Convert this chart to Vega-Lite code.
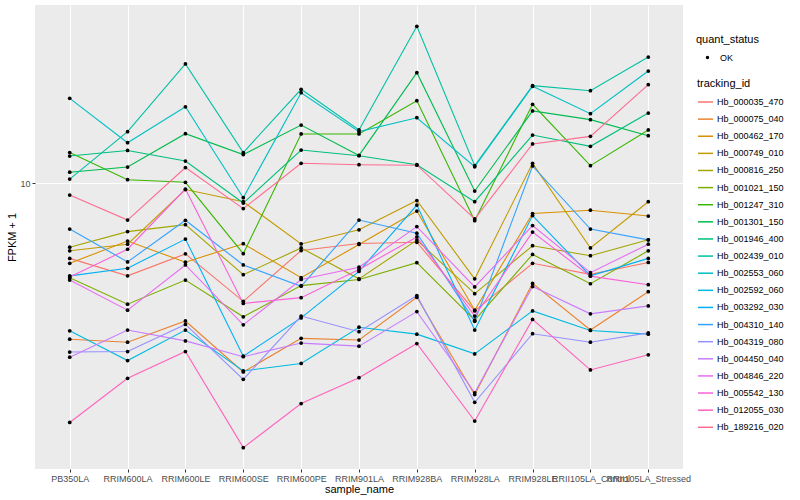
{
"$schema":"https://vega.github.io/schema/vega-lite/v6.json",
"width":648,"height":464,
"autosize":"none",
"padding":{"left":35,"top":5,"right":117,"bottom":31},
"background":"white",
"config":{
"view":{"fill":"#EBEBEB","stroke":null},
"font":"Liberation Sans",
"axis":{"domain":false,"gridColor":"white","gridWidth":1.1,"tickColor":"#333333","tickSize":3,"labelColor":"#4D4D4D","labelFontSize":9,"titleFontSize":11,"titleFontWeight":"normal","titleColor":"black","labelPadding":2},
"legend":{"titleFontSize":11,"titleFontWeight":"normal","titleColor":"black","labelFontSize":9,"labelColor":"black","padding":0}
},
"data":{"values":[
{"gene":"Hb_000035_470","sample":"PB350LA","fpkm":6.48,"status":"OK"},{"gene":"Hb_000035_470","sample":"RRIM600LA","fpkm":5.86,"status":"OK"},{"gene":"Hb_000035_470","sample":"RRIM600LE","fpkm":6.65,"status":"OK"},{"gene":"Hb_000035_470","sample":"RRIM600SE","fpkm":5.06,"status":"OK"},{"gene":"Hb_000035_470","sample":"RRIM600PE","fpkm":6.78,"status":"OK"},{"gene":"Hb_000035_470","sample":"RRIM901LA","fpkm":7.06,"status":"OK"},{"gene":"Hb_000035_470","sample":"RRIM928BA","fpkm":7.11,"status":"OK"},{"gene":"Hb_000035_470","sample":"RRIM928LA","fpkm":4.79,"status":"OK"},{"gene":"Hb_000035_470","sample":"RRIM928LE","fpkm":6.30,"status":"OK"},{"gene":"Hb_000035_470","sample":"RRII105LA_Control","fpkm":5.91,"status":"OK"},{"gene":"Hb_000035_470","sample":"RRII105LA_Stressed","fpkm":6.33,"status":"OK"},
{"gene":"Hb_000075_040","sample":"PB350LA","fpkm":4.07,"status":"OK"},{"gene":"Hb_000075_040","sample":"RRIM600LA","fpkm":4.00,"status":"OK"},{"gene":"Hb_000075_040","sample":"RRIM600LE","fpkm":4.52,"status":"OK"},{"gene":"Hb_000075_040","sample":"RRIM600SE","fpkm":3.37,"status":"OK"},{"gene":"Hb_000075_040","sample":"RRIM600PE","fpkm":4.09,"status":"OK"},{"gene":"Hb_000075_040","sample":"RRIM901LA","fpkm":4.05,"status":"OK"},{"gene":"Hb_000075_040","sample":"RRIM928BA","fpkm":5.18,"status":"OK"},{"gene":"Hb_000075_040","sample":"RRIM928LA","fpkm":2.96,"status":"OK"},{"gene":"Hb_000075_040","sample":"RRIM928LE","fpkm":5.61,"status":"OK"},{"gene":"Hb_000075_040","sample":"RRII105LA_Control","fpkm":4.29,"status":"OK"},{"gene":"Hb_000075_040","sample":"RRII105LA_Stressed","fpkm":5.35,"status":"OK"},
{"gene":"Hb_000462_170","sample":"PB350LA","fpkm":6.30,"status":"OK"},{"gene":"Hb_000462_170","sample":"RRIM600LA","fpkm":7.16,"status":"OK"},{"gene":"Hb_000462_170","sample":"RRIM600LE","fpkm":6.34,"status":"OK"},{"gene":"Hb_000462_170","sample":"RRIM600SE","fpkm":7.05,"status":"OK"},{"gene":"Hb_000462_170","sample":"RRIM600PE","fpkm":5.80,"status":"OK"},{"gene":"Hb_000462_170","sample":"RRIM901LA","fpkm":7.02,"status":"OK"},{"gene":"Hb_000462_170","sample":"RRIM928BA","fpkm":8.51,"status":"OK"},{"gene":"Hb_000462_170","sample":"RRIM928LA","fpkm":4.81,"status":"OK"},{"gene":"Hb_000462_170","sample":"RRIM928LE","fpkm":8.39,"status":"OK"},{"gene":"Hb_000462_170","sample":"RRII105LA_Control","fpkm":8.55,"status":"OK"},{"gene":"Hb_000462_170","sample":"RRII105LA_Stressed","fpkm":8.27,"status":"OK"},
{"gene":"Hb_000749_010","sample":"PB350LA","fpkm":6.77,"status":"OK"},{"gene":"Hb_000749_010","sample":"RRIM600LA","fpkm":7.03,"status":"OK"},{"gene":"Hb_000749_010","sample":"RRIM600LE","fpkm":9.63,"status":"OK"},{"gene":"Hb_000749_010","sample":"RRIM600SE","fpkm":8.98,"status":"OK"},{"gene":"Hb_000749_010","sample":"RRIM600PE","fpkm":7.04,"status":"OK"},{"gene":"Hb_000749_010","sample":"RRIM901LA","fpkm":7.64,"status":"OK"},{"gene":"Hb_000749_010","sample":"RRIM928BA","fpkm":9.04,"status":"OK"},{"gene":"Hb_000749_010","sample":"RRIM928LA","fpkm":5.76,"status":"OK"},{"gene":"Hb_000749_010","sample":"RRIM928LE","fpkm":11.20,"status":"OK"},{"gene":"Hb_000749_010","sample":"RRII105LA_Control","fpkm":6.88,"status":"OK"},{"gene":"Hb_000749_010","sample":"RRII105LA_Stressed","fpkm":8.98,"status":"OK"},
{"gene":"Hb_000816_250","sample":"PB350LA","fpkm":6.91,"status":"OK"},{"gene":"Hb_000816_250","sample":"RRIM600LA","fpkm":7.56,"status":"OK"},{"gene":"Hb_000816_250","sample":"RRIM600LE","fpkm":7.87,"status":"OK"},{"gene":"Hb_000816_250","sample":"RRIM600SE","fpkm":5.90,"status":"OK"},{"gene":"Hb_000816_250","sample":"RRIM600PE","fpkm":6.88,"status":"OK"},{"gene":"Hb_000816_250","sample":"RRIM901LA","fpkm":5.76,"status":"OK"},{"gene":"Hb_000816_250","sample":"RRIM928BA","fpkm":7.20,"status":"OK"},{"gene":"Hb_000816_250","sample":"RRIM928LA","fpkm":5.29,"status":"OK"},{"gene":"Hb_000816_250","sample":"RRIM928LE","fpkm":6.97,"status":"OK"},{"gene":"Hb_000816_250","sample":"RRII105LA_Control","fpkm":6.58,"status":"OK"},{"gene":"Hb_000816_250","sample":"RRII105LA_Stressed","fpkm":7.21,"status":"OK"},
{"gene":"Hb_001021_150","sample":"PB350LA","fpkm":5.80,"status":"OK"},{"gene":"Hb_001021_150","sample":"RRIM600LA","fpkm":4.98,"status":"OK"},{"gene":"Hb_001021_150","sample":"RRIM600LE","fpkm":5.72,"status":"OK"},{"gene":"Hb_001021_150","sample":"RRIM600SE","fpkm":4.63,"status":"OK"},{"gene":"Hb_001021_150","sample":"RRIM600PE","fpkm":5.54,"status":"OK"},{"gene":"Hb_001021_150","sample":"RRIM901LA","fpkm":5.74,"status":"OK"},{"gene":"Hb_001021_150","sample":"RRIM928BA","fpkm":6.32,"status":"OK"},{"gene":"Hb_001021_150","sample":"RRIM928LA","fpkm":4.54,"status":"OK"},{"gene":"Hb_001021_150","sample":"RRIM928LE","fpkm":6.63,"status":"OK"},{"gene":"Hb_001021_150","sample":"RRII105LA_Control","fpkm":5.60,"status":"OK"},{"gene":"Hb_001021_150","sample":"RRII105LA_Stressed","fpkm":6.77,"status":"OK"},
{"gene":"Hb_001247_310","sample":"PB350LA","fpkm":11.92,"status":"OK"},{"gene":"Hb_001247_310","sample":"RRIM600LA","fpkm":10.19,"status":"OK"},{"gene":"Hb_001247_310","sample":"RRIM600LE","fpkm":10.04,"status":"OK"},{"gene":"Hb_001247_310","sample":"RRIM600SE","fpkm":6.66,"status":"OK"},{"gene":"Hb_001247_310","sample":"RRIM600PE","fpkm":13.26,"status":"OK"},{"gene":"Hb_001247_310","sample":"RRIM901LA","fpkm":13.26,"status":"OK"},{"gene":"Hb_001247_310","sample":"RRIM928BA","fpkm":16.06,"status":"OK"},{"gene":"Hb_001247_310","sample":"RRIM928LA","fpkm":8.05,"status":"OK"},{"gene":"Hb_001247_310","sample":"RRIM928LE","fpkm":15.73,"status":"OK"},{"gene":"Hb_001247_310","sample":"RRII105LA_Control","fpkm":11.05,"status":"OK"},{"gene":"Hb_001247_310","sample":"RRII105LA_Stressed","fpkm":13.57,"status":"OK"},
{"gene":"Hb_001301_150","sample":"PB350LA","fpkm":10.64,"status":"OK"},{"gene":"Hb_001301_150","sample":"RRIM600LA","fpkm":10.96,"status":"OK"},{"gene":"Hb_001301_150","sample":"RRIM600LE","fpkm":13.28,"status":"OK"},{"gene":"Hb_001301_150","sample":"RRIM600SE","fpkm":11.78,"status":"OK"},{"gene":"Hb_001301_150","sample":"RRIM600PE","fpkm":13.96,"status":"OK"},{"gene":"Hb_001301_150","sample":"RRIM901LA","fpkm":11.72,"status":"OK"},{"gene":"Hb_001301_150","sample":"RRIM928BA","fpkm":18.87,"status":"OK"},{"gene":"Hb_001301_150","sample":"RRIM928LA","fpkm":9.55,"status":"OK"},{"gene":"Hb_001301_150","sample":"RRIM928LE","fpkm":15.14,"status":"OK"},{"gene":"Hb_001301_150","sample":"RRII105LA_Control","fpkm":14.40,"status":"OK"},{"gene":"Hb_001301_150","sample":"RRII105LA_Stressed","fpkm":13.13,"status":"OK"},
{"gene":"Hb_001946_400","sample":"PB350LA","fpkm":11.68,"status":"OK"},{"gene":"Hb_001946_400","sample":"RRIM600LA","fpkm":12.06,"status":"OK"},{"gene":"Hb_001946_400","sample":"RRIM600LE","fpkm":11.35,"status":"OK"},{"gene":"Hb_001946_400","sample":"RRIM600SE","fpkm":8.91,"status":"OK"},{"gene":"Hb_001946_400","sample":"RRIM600PE","fpkm":12.09,"status":"OK"},{"gene":"Hb_001946_400","sample":"RRIM901LA","fpkm":11.70,"status":"OK"},{"gene":"Hb_001946_400","sample":"RRIM928BA","fpkm":11.11,"status":"OK"},{"gene":"Hb_001946_400","sample":"RRIM928LA","fpkm":8.98,"status":"OK"},{"gene":"Hb_001946_400","sample":"RRIM928LE","fpkm":13.18,"status":"OK"},{"gene":"Hb_001946_400","sample":"RRII105LA_Control","fpkm":12.35,"status":"OK"},{"gene":"Hb_001946_400","sample":"RRII105LA_Stressed","fpkm":14.96,"status":"OK"},
{"gene":"Hb_002439_010","sample":"PB350LA","fpkm":10.23,"status":"OK"},{"gene":"Hb_002439_010","sample":"RRIM600LA","fpkm":13.44,"status":"OK"},{"gene":"Hb_002439_010","sample":"RRIM600LE","fpkm":19.84,"status":"OK"},{"gene":"Hb_002439_010","sample":"RRIM600SE","fpkm":11.92,"status":"OK"},{"gene":"Hb_002439_010","sample":"RRIM600PE","fpkm":17.15,"status":"OK"},{"gene":"Hb_002439_010","sample":"RRIM901LA","fpkm":13.57,"status":"OK"},{"gene":"Hb_002439_010","sample":"RRIM928BA","fpkm":24.65,"status":"OK"},{"gene":"Hb_002439_010","sample":"RRIM928LA","fpkm":11.05,"status":"OK"},{"gene":"Hb_002439_010","sample":"RRIM928LE","fpkm":17.51,"status":"OK"},{"gene":"Hb_002439_010","sample":"RRII105LA_Control","fpkm":17.01,"status":"OK"},{"gene":"Hb_002439_010","sample":"RRII105LA_Stressed","fpkm":20.65,"status":"OK"},
{"gene":"Hb_002553_060","sample":"PB350LA","fpkm":16.28,"status":"OK"},{"gene":"Hb_002553_060","sample":"RRIM600LA","fpkm":12.61,"status":"OK"},{"gene":"Hb_002553_060","sample":"RRIM600LE","fpkm":15.51,"status":"OK"},{"gene":"Hb_002553_060","sample":"RRIM600SE","fpkm":9.19,"status":"OK"},{"gene":"Hb_002553_060","sample":"RRIM600PE","fpkm":16.82,"status":"OK"},{"gene":"Hb_002553_060","sample":"RRIM901LA","fpkm":13.44,"status":"OK"},{"gene":"Hb_002553_060","sample":"RRIM928BA","fpkm":14.56,"status":"OK"},{"gene":"Hb_002553_060","sample":"RRIM928LA","fpkm":10.98,"status":"OK"},{"gene":"Hb_002553_060","sample":"RRIM928LE","fpkm":17.45,"status":"OK"},{"gene":"Hb_002553_060","sample":"RRII105LA_Control","fpkm":14.90,"status":"OK"},{"gene":"Hb_002553_060","sample":"RRII105LA_Stressed","fpkm":19.05,"status":"OK"},
{"gene":"Hb_002592_060","sample":"PB350LA","fpkm":4.27,"status":"OK"},{"gene":"Hb_002592_060","sample":"RRIM600LA","fpkm":3.60,"status":"OK"},{"gene":"Hb_002592_060","sample":"RRIM600LE","fpkm":4.29,"status":"OK"},{"gene":"Hb_002592_060","sample":"RRIM600SE","fpkm":3.39,"status":"OK"},{"gene":"Hb_002592_060","sample":"RRIM600PE","fpkm":3.54,"status":"OK"},{"gene":"Hb_002592_060","sample":"RRIM901LA","fpkm":4.36,"status":"OK"},{"gene":"Hb_002592_060","sample":"RRIM928BA","fpkm":4.19,"status":"OK"},{"gene":"Hb_002592_060","sample":"RRIM928LA","fpkm":3.74,"status":"OK"},{"gene":"Hb_002592_060","sample":"RRIM928LE","fpkm":4.79,"status":"OK"},{"gene":"Hb_002592_060","sample":"RRII105LA_Control","fpkm":4.28,"status":"OK"},{"gene":"Hb_002592_060","sample":"RRII105LA_Stressed","fpkm":4.19,"status":"OK"},
{"gene":"Hb_003292_030","sample":"PB350LA","fpkm":5.86,"status":"OK"},{"gene":"Hb_003292_030","sample":"RRIM600LA","fpkm":6.12,"status":"OK"},{"gene":"Hb_003292_030","sample":"RRIM600LE","fpkm":7.24,"status":"OK"},{"gene":"Hb_003292_030","sample":"RRIM600SE","fpkm":3.69,"status":"OK"},{"gene":"Hb_003292_030","sample":"RRIM600PE","fpkm":4.60,"status":"OK"},{"gene":"Hb_003292_030","sample":"RRIM901LA","fpkm":6.01,"status":"OK"},{"gene":"Hb_003292_030","sample":"RRIM928BA","fpkm":8.81,"status":"OK"},{"gene":"Hb_003292_030","sample":"RRIM928LA","fpkm":4.29,"status":"OK"},{"gene":"Hb_003292_030","sample":"RRIM928LE","fpkm":8.29,"status":"OK"},{"gene":"Hb_003292_030","sample":"RRII105LA_Control","fpkm":5.86,"status":"OK"},{"gene":"Hb_003292_030","sample":"RRII105LA_Stressed","fpkm":6.48,"status":"OK"},
{"gene":"Hb_004310_140","sample":"PB350LA","fpkm":7.67,"status":"OK"},{"gene":"Hb_004310_140","sample":"RRIM600LA","fpkm":6.35,"status":"OK"},{"gene":"Hb_004310_140","sample":"RRIM600LE","fpkm":8.07,"status":"OK"},{"gene":"Hb_004310_140","sample":"RRIM600SE","fpkm":6.24,"status":"OK"},{"gene":"Hb_004310_140","sample":"RRIM600PE","fpkm":5.52,"status":"OK"},{"gene":"Hb_004310_140","sample":"RRIM901LA","fpkm":8.08,"status":"OK"},{"gene":"Hb_004310_140","sample":"RRIM928BA","fpkm":7.49,"status":"OK"},{"gene":"Hb_004310_140","sample":"RRIM928LA","fpkm":4.51,"status":"OK"},{"gene":"Hb_004310_140","sample":"RRIM928LE","fpkm":11.03,"status":"OK"},{"gene":"Hb_004310_140","sample":"RRII105LA_Control","fpkm":7.67,"status":"OK"},{"gene":"Hb_004310_140","sample":"RRII105LA_Stressed","fpkm":7.21,"status":"OK"},
{"gene":"Hb_004319_080","sample":"PB350LA","fpkm":3.78,"status":"OK"},{"gene":"Hb_004319_080","sample":"RRIM600LA","fpkm":3.79,"status":"OK"},{"gene":"Hb_004319_080","sample":"RRIM600LE","fpkm":4.43,"status":"OK"},{"gene":"Hb_004319_080","sample":"RRIM600SE","fpkm":3.23,"status":"OK"},{"gene":"Hb_004319_080","sample":"RRIM600PE","fpkm":4.65,"status":"OK"},{"gene":"Hb_004319_080","sample":"RRIM901LA","fpkm":4.25,"status":"OK"},{"gene":"Hb_004319_080","sample":"RRIM928BA","fpkm":5.23,"status":"OK"},{"gene":"Hb_004319_080","sample":"RRIM928LA","fpkm":2.83,"status":"OK"},{"gene":"Hb_004319_080","sample":"RRIM928LE","fpkm":4.20,"status":"OK"},{"gene":"Hb_004319_080","sample":"RRII105LA_Control","fpkm":4.00,"status":"OK"},{"gene":"Hb_004319_080","sample":"RRII105LA_Stressed","fpkm":4.22,"status":"OK"},
{"gene":"Hb_004450_040","sample":"PB350LA","fpkm":3.67,"status":"OK"},{"gene":"Hb_004450_040","sample":"RRIM600LA","fpkm":4.29,"status":"OK"},{"gene":"Hb_004450_040","sample":"RRIM600LE","fpkm":4.03,"status":"OK"},{"gene":"Hb_004450_040","sample":"RRIM600SE","fpkm":3.68,"status":"OK"},{"gene":"Hb_004450_040","sample":"RRIM600PE","fpkm":3.98,"status":"OK"},{"gene":"Hb_004450_040","sample":"RRIM901LA","fpkm":3.91,"status":"OK"},{"gene":"Hb_004450_040","sample":"RRIM928BA","fpkm":4.77,"status":"OK"},{"gene":"Hb_004450_040","sample":"RRIM928LA","fpkm":2.99,"status":"OK"},{"gene":"Hb_004450_040","sample":"RRIM928LE","fpkm":5.51,"status":"OK"},{"gene":"Hb_004450_040","sample":"RRII105LA_Control","fpkm":4.71,"status":"OK"},{"gene":"Hb_004450_040","sample":"RRII105LA_Stressed","fpkm":4.93,"status":"OK"},
{"gene":"Hb_004846_220","sample":"PB350LA","fpkm":5.72,"status":"OK"},{"gene":"Hb_004846_220","sample":"RRIM600LA","fpkm":4.81,"status":"OK"},{"gene":"Hb_004846_220","sample":"RRIM600LE","fpkm":6.24,"status":"OK"},{"gene":"Hb_004846_220","sample":"RRIM600SE","fpkm":4.42,"status":"OK"},{"gene":"Hb_004846_220","sample":"RRIM600PE","fpkm":5.74,"status":"OK"},{"gene":"Hb_004846_220","sample":"RRIM901LA","fpkm":6.16,"status":"OK"},{"gene":"Hb_004846_220","sample":"RRIM928BA","fpkm":7.78,"status":"OK"},{"gene":"Hb_004846_220","sample":"RRIM928LA","fpkm":5.50,"status":"OK"},{"gene":"Hb_004846_220","sample":"RRIM928LE","fpkm":7.83,"status":"OK"},{"gene":"Hb_004846_220","sample":"RRII105LA_Control","fpkm":5.97,"status":"OK"},{"gene":"Hb_004846_220","sample":"RRII105LA_Stressed","fpkm":7.03,"status":"OK"},
{"gene":"Hb_005542_130","sample":"PB350LA","fpkm":5.82,"status":"OK"},{"gene":"Hb_005542_130","sample":"RRIM600LA","fpkm":6.83,"status":"OK"},{"gene":"Hb_005542_130","sample":"RRIM600LE","fpkm":9.66,"status":"OK"},{"gene":"Hb_005542_130","sample":"RRIM600SE","fpkm":5.00,"status":"OK"},{"gene":"Hb_005542_130","sample":"RRIM600PE","fpkm":5.17,"status":"OK"},{"gene":"Hb_005542_130","sample":"RRIM901LA","fpkm":6.08,"status":"OK"},{"gene":"Hb_005542_130","sample":"RRIM928BA","fpkm":7.33,"status":"OK"},{"gene":"Hb_005542_130","sample":"RRIM928LA","fpkm":4.65,"status":"OK"},{"gene":"Hb_005542_130","sample":"RRIM928LE","fpkm":7.54,"status":"OK"},{"gene":"Hb_005542_130","sample":"RRII105LA_Control","fpkm":5.85,"status":"OK"},{"gene":"Hb_005542_130","sample":"RRII105LA_Stressed","fpkm":5.57,"status":"OK"},
{"gene":"Hb_012055_030","sample":"PB350LA","fpkm":2.52,"status":"OK"},{"gene":"Hb_012055_030","sample":"RRIM600LA","fpkm":3.25,"status":"OK"},{"gene":"Hb_012055_030","sample":"RRIM600LE","fpkm":3.79,"status":"OK"},{"gene":"Hb_012055_030","sample":"RRIM600SE","fpkm":2.18,"status":"OK"},{"gene":"Hb_012055_030","sample":"RRIM600PE","fpkm":2.81,"status":"OK"},{"gene":"Hb_012055_030","sample":"RRIM901LA","fpkm":3.26,"status":"OK"},{"gene":"Hb_012055_030","sample":"RRIM928BA","fpkm":3.97,"status":"OK"},{"gene":"Hb_012055_030","sample":"RRIM928LA","fpkm":2.54,"status":"OK"},{"gene":"Hb_012055_030","sample":"RRIM928LE","fpkm":4.56,"status":"OK"},{"gene":"Hb_012055_030","sample":"RRII105LA_Control","fpkm":3.41,"status":"OK"},{"gene":"Hb_012055_030","sample":"RRII105LA_Stressed","fpkm":3.72,"status":"OK"},
{"gene":"Hb_189216_020","sample":"PB350LA","fpkm":9.33,"status":"OK"},{"gene":"Hb_189216_020","sample":"RRIM600LA","fpkm":8.08,"status":"OK"},{"gene":"Hb_189216_020","sample":"RRIM600LE","fpkm":10.93,"status":"OK"},{"gene":"Hb_189216_020","sample":"RRIM600SE","fpkm":8.63,"status":"OK"},{"gene":"Hb_189216_020","sample":"RRIM600PE","fpkm":11.20,"status":"OK"},{"gene":"Hb_189216_020","sample":"RRIM901LA","fpkm":11.11,"status":"OK"},{"gene":"Hb_189216_020","sample":"RRIM928BA","fpkm":11.08,"status":"OK"},{"gene":"Hb_189216_020","sample":"RRIM928LA","fpkm":8.13,"status":"OK"},{"gene":"Hb_189216_020","sample":"RRIM928LE","fpkm":12.52,"status":"OK"},{"gene":"Hb_189216_020","sample":"RRII105LA_Control","fpkm":13.08,"status":"OK"},{"gene":"Hb_189216_020","sample":"RRII105LA_Stressed","fpkm":17.61,"status":"OK"}
]},
"encoding":{
"x":{"field":"sample","type":"ordinal","sort":["PB350LA","RRIM600LA","RRIM600LE","RRIM600SE","RRIM600PE","RRIM901LA","RRIM928BA","RRIM928LA","RRIM928LE","RRII105LA_Control","RRII105LA_Stressed"],"scale":{"type":"point","padding":0.6},"axis":{"title":"sample_name","labelAngle":0,"labelOverlap":false,"grid":true,"titlePadding":0,"labelLimit":0}},
"y":{"field":"fpkm","type":"quantitative","scale":{"type":"log","domain":[1.928,27.86],"nice":false},"axis":{"title":"FPKM + 1","values":[10],"format":"d","titleX":-23,"titleBaseline":"middle"}}
},
"layer":[
{"mark":{"type":"line","strokeWidth":1.1},
 "encoding":{"color":{"field":"gene","type":"nominal","scale":{"range":["#F8766D","#EA8331","#D89000","#C09B00","#A3A500","#7CAE00","#39B600","#00BB4E","#00BF7D","#00C1A3","#00BFC4","#00BAE0","#00B0F6","#35A2FF","#9590FF","#C77CFF","#E76BF3","#FA62DB","#FF62BC","#FF6C91"]},
 "legend":{"title":"tracking_id","orient":"none","legendX":662,"legendY":73,"symbolType":"stroke","symbolSize":225,"symbolStrokeWidth":1.5,"rowPadding":3.12,"labelOffset":3,"titlePadding":4.5}},
 "order":{"value":null}}},
{"mark":{"type":"point","filled":true,"opacity":1,"size":14},
 "encoding":{"shape":{"field":"status","type":"nominal","scale":{"range":["circle"]},"legend":{"title":"quant_status","orient":"none","legendX":661,"legendY":29,"symbolSize":12,"symbolFillColor":"black","symbolStrokeColor":"black","symbolOffset":7,"labelOffset":8,"titlePadding":8}},
 "color":{"value":"black"}}}
]
}
